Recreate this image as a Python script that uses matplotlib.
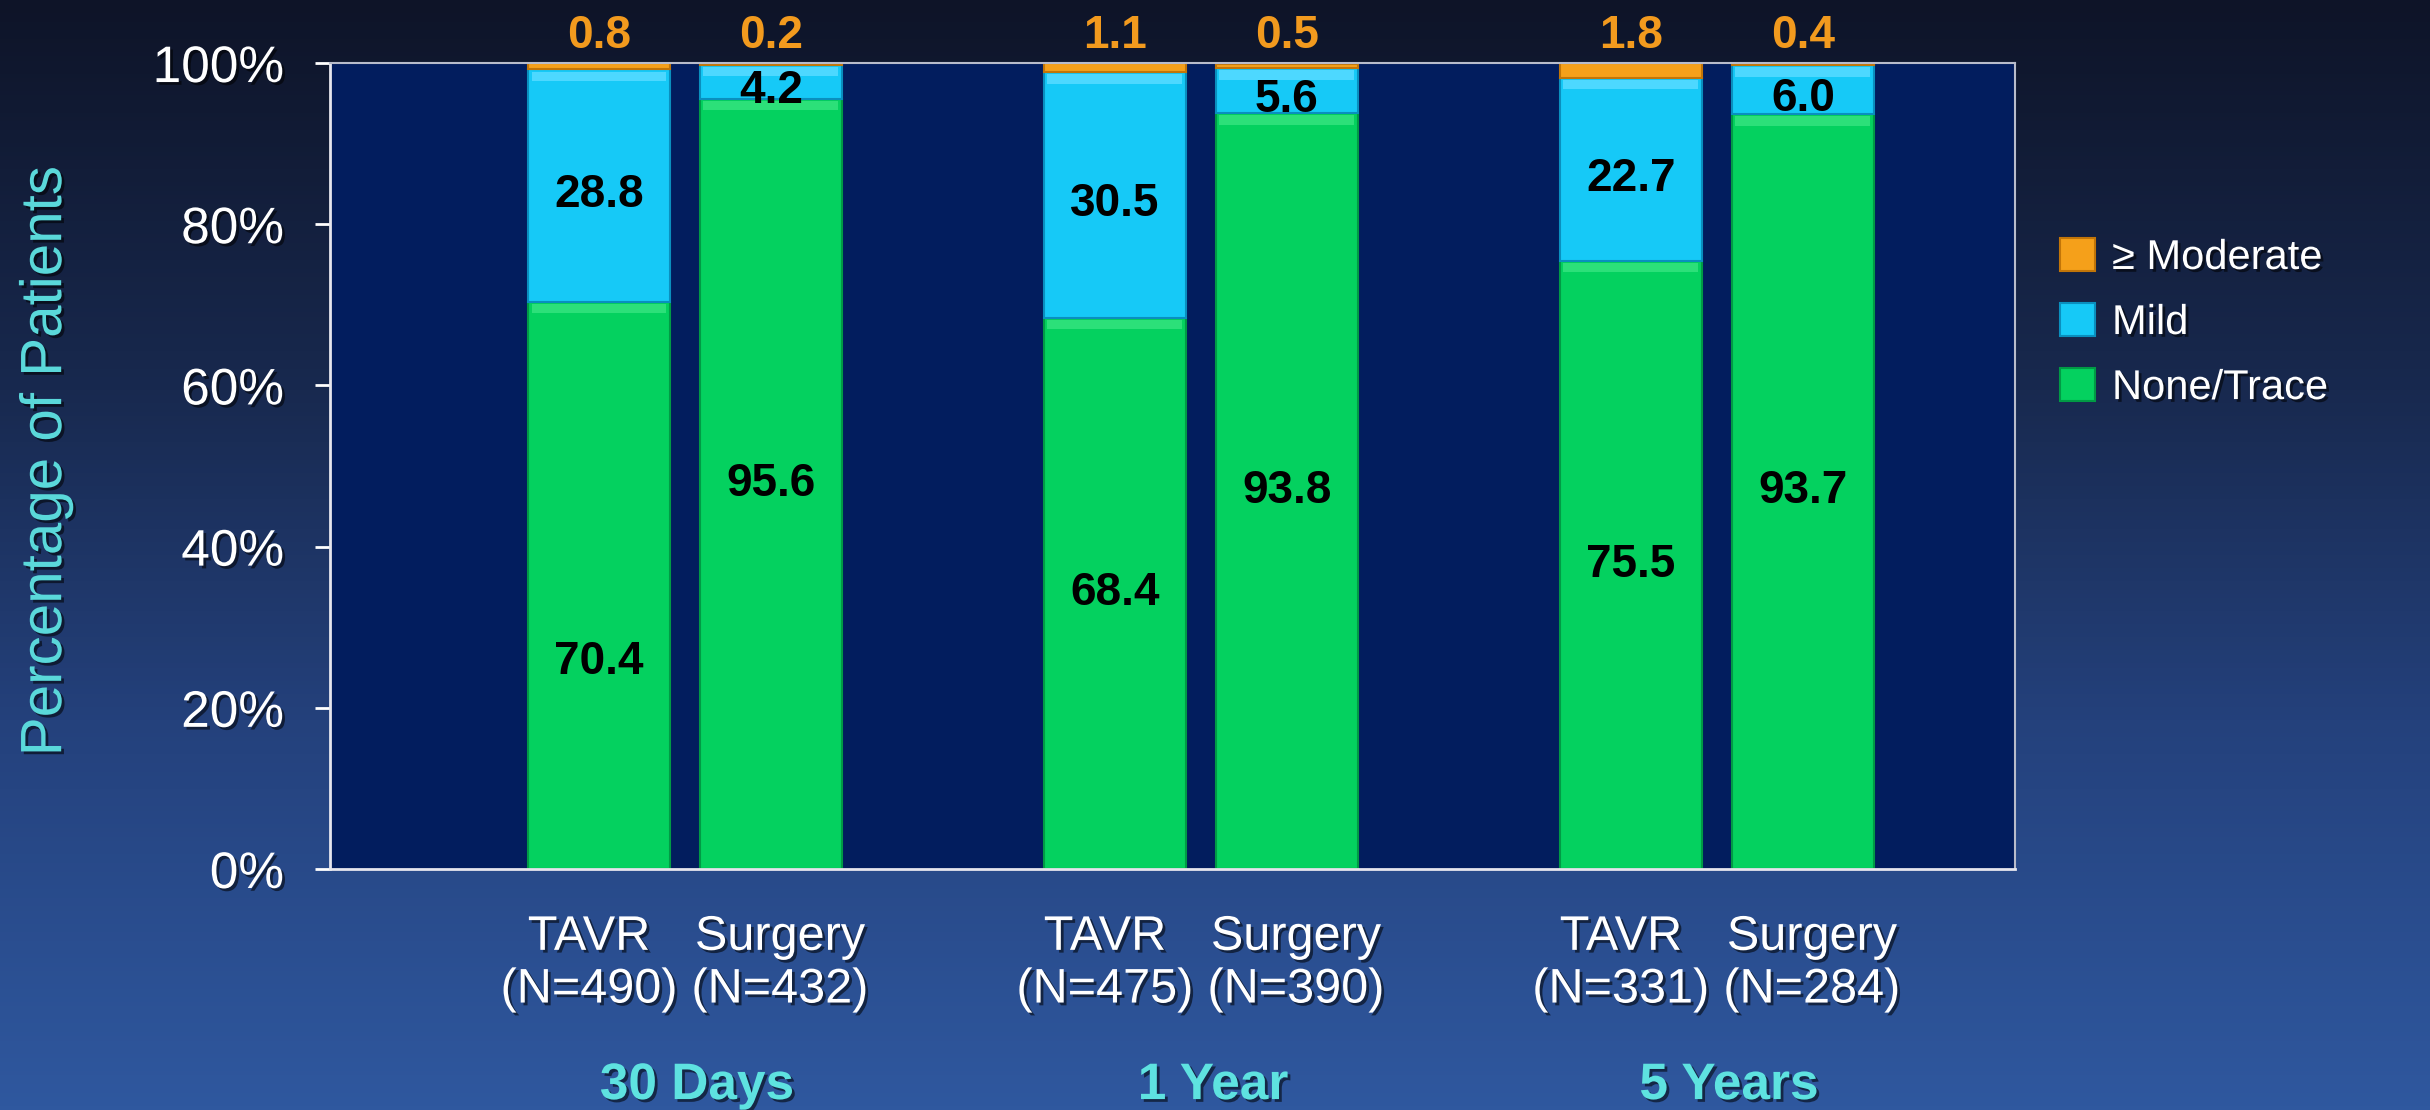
import numpy as np
import matplotlib
matplotlib.use("Agg")
import matplotlib.pyplot as plt
import matplotlib.patheffects as pe
from matplotlib.colors import LinearSegmentedColormap
from matplotlib.patches import Patch
from matplotlib.transforms import blended_transform_factory, ScaledTranslation

plt.rcParams['font.family'] = ['Liberation Sans', 'DejaVu Sans']

# данные: доли пациентов по степени регургитации
groups = ["30 Days", "1 Year", "5 Years"]
arms = ["TAVR", "Surgery"]
n_patients = [490, 432, 475, 390, 331, 284]
none_trace = [70.4, 95.6, 68.4, 93.8, 75.5, 93.7]
mild = [28.8, 4.2, 30.5, 5.6, 22.7, 6.0]
moderate = [0.8, 0.2, 1.1, 0.5, 1.8, 0.4]

# позиции столбиков: пары внутри группы, между группами пропуск
pos = []
for g in range(len(groups)):
    pos += [3 * g, 3 * g + 1]
pos = np.array(pos, dtype=float)
width = 0.826

c_green, c_green_e, c_green_hi = '#04D15F', '#019A45', '#2CE079'
c_cyan, c_cyan_e, c_cyan_hi = '#16C9F7', '#0A8FBE', '#4DD8FF'
c_orange, c_orange_e = '#F5A01A', '#C27508'

shadow = [pe.SimplePatchShadow(offset=(2, -2), shadow_rgbFace='black', alpha=0.55), pe.Normal()]

fig = plt.figure(figsize=(24.3, 11.1), dpi=100)

# фон слайда — вертикальный градиент
bg = fig.add_axes([0, 0, 1, 1], zorder=-10)
cmap = LinearSegmentedColormap.from_list(
    "slide", [(0, '#0E1428'), (0.35, '#18294F'), (0.65, '#24417C'), (1.0, '#2F589F')])
bg.imshow(np.linspace(0, 1, 256)[:, None], aspect='auto', cmap=cmap, extent=[0, 1, 0, 1])
bg.axis('off')

ax = fig.add_axes([0.1358, 0.2171, 0.6934, 0.7261])
ax.set_facecolor('#021D5E')

bottom = np.zeros(len(pos))
series = [(none_trace, c_green, c_green_e, c_green_hi),
          (mild, c_cyan, c_cyan_e, c_cyan_hi),
          (moderate, c_orange, c_orange_e, None)]
for vals, col, ecol, hi in series:
    vals = np.array(vals)
    ax.bar(pos, vals, width, bottom=bottom, color=col, edgecolor=ecol, linewidth=1.5, zorder=2)
    if hi is not None:
        # светлая фаска сверху сегмента
        hh = np.minimum(1.2, vals * 0.3)
        ax.bar(pos, hh, width * 0.95, bottom=bottom + vals - hh - 0.25, color=hi,
               linewidth=0, zorder=3)
    bottom += vals

# подписи значений
label_nudge = {0: -9.5}
for i, x in enumerate(pos):
    y = none_trace[i] / 2 + label_nudge.get(i, 0)
    ax.text(x, y, f"{none_trace[i]:.1f}", ha='center', va='center', fontsize=33,
            fontweight='bold', color='black', zorder=5)
    y = none_trace[i] + mild[i] / 2 - 1.2
    ax.text(x, y, f"{mild[i]:.1f}", ha='center', va='center', fontsize=33,
            fontweight='bold', color='black', zorder=5)
    ax.text(x, 103.4, f"{moderate[i]:.1f}", ha='center', va='center', fontsize=33,
            fontweight='bold', color='#F29A1E', zorder=5, clip_on=False)

ax.set_xlim(-1.564, 8.233)
ax.set_ylim(0, 100)
ax.set_yticks(range(0, 101, 20))
ax.set_yticklabels([f"{v}%" for v in range(0, 101, 20)])
ax.tick_params(axis='y', colors='white', labelsize=37, length=11, width=2, pad=22)
for lab in ax.get_yticklabels():
    lab.set_path_effects(shadow)

ax.set_xticks(pos)
ax.set_xticklabels([f"{arms[i % 2]}\n(N={n})" for i, n in enumerate(n_patients)],
                   linespacing=1.22)
ax.tick_params(axis='x', length=0, labelsize=35, colors='white', pad=33)
for i, lab in enumerate(ax.get_xticklabels()):
    lab.set_path_effects(shadow)
    # раздвигаем подписи пары, чтобы не слипались
    dx = -10 if i % 2 == 0 else 9
    lab.set_transform(lab.get_transform() + ScaledTranslation(dx / 100, 0, fig.dpi_scale_trans))

for s in ['left', 'bottom']:
    ax.spines[s].set_color('#E6E6EE')
    ax.spines[s].set_linewidth(2)
for s in ['top', 'right']:
    ax.spines[s].set_color('#B8BCCB')
    ax.spines[s].set_linewidth(1.5)

# подписи групп (сроки наблюдения)
tr = blended_transform_factory(ax.transData, fig.transFigure)
for g, name in enumerate(groups):
    ax.text(3 * g + 0.5 + 0.07, 0.022, name, transform=tr, ha='center', va='center',
            fontsize=37, fontweight='bold', color='#5EE2E0', path_effects=shadow)

fig.text(0.019, 0.585, "Percentage of Patients", rotation=90, ha='center', va='center',
         fontsize=42, color='#5AD8DA', path_effects=shadow)

handles = [Patch(facecolor=c_orange, edgecolor=c_orange_e, linewidth=1.5),
           Patch(facecolor=c_cyan, edgecolor=c_cyan_e, linewidth=1.5),
           Patch(facecolor=c_green, edgecolor=c_green_e, linewidth=1.5)]
leg = fig.legend(handles, ["≥ Moderate", "Mild", "None/Trace"], loc='center left',
                 bbox_to_anchor=(0.8477, 0.709), bbox_transform=fig.transFigure,
                 frameon=False, fontsize=30, handlelength=0.85, handleheight=0.85,
                 handletextpad=0.4, labelspacing=0.6, borderpad=0, borderaxespad=0)
for t in leg.get_texts():
    t.set_color('white')
    t.set_path_effects(shadow)

fig.savefig("out.png", dpi=100)
